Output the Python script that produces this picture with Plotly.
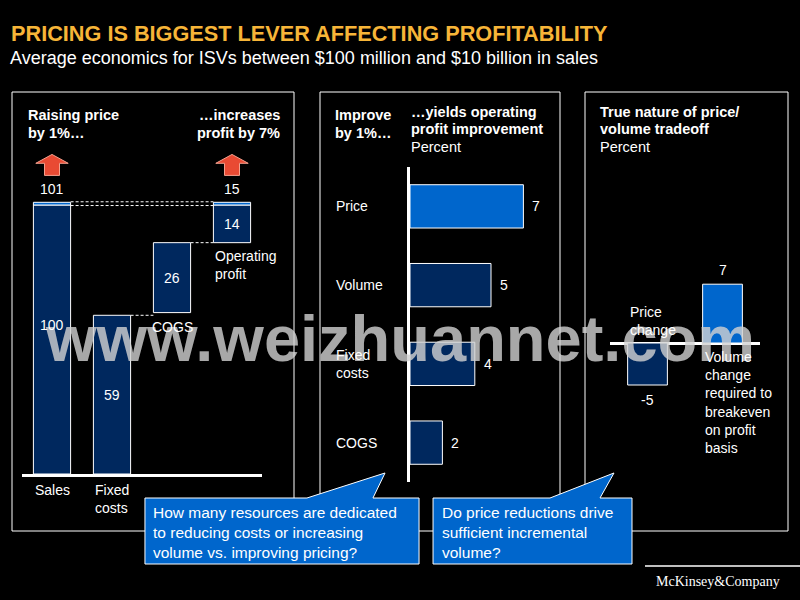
import plotly.graph_objects as go

W, H = 800, 600

# ---------------- data ----------------
TITLE = "PRICING IS BIGGEST LEVER AFFECTING PROFITABILITY"
SUBTITLE = "Average economics for ISVs between $100 million and $10 billion in sales"

# Panel 1 – waterfall (index 100 = sales)
wf_names = ["Sales", "Fixed<br>costs", "COGS", "Operating<br>profit"]
sales = 100
price_increase = 1
fixed_costs = 59
cogs = 26
op_profit = 14
new_op_profit = 15

# Panel 2 – operating profit improvement from 1% lever improvement
lever_names = ["Price", "Volume", "Fixed<br>costs", "COGS"]
lever_values = [7, 5, 4, 2]

# Panel 3 – price / volume trade-off
trade_names = ["Price<br>change",
               "Volume<br>change<br>required to<br>breakeven<br>on profit<br>basis"]
trade_values = [-5, 7]

callout_texts = [
    "How many resources are dedicated<br>to reducing costs or increasing<br>volume vs. improving pricing?",
    "Do price reductions drive<br>sufficient incremental<br>volume?",
]

# ---------------- style ----------------
NAVY = "#00285E"
BLUE = "#0066CC"
WHITE = "#FFFFFF"
GOLD = "#F7B538"
RED = "#E94A33"
FONT = "Liberation Sans, Arial, Helvetica, sans-serif"
SERIF = "Liberation Serif, Times New Roman, serif"


def px(x):
    return x / W


def py(y):
    return 1 - y / H


def pann(text, x, y, size=14, bold=False, xanchor="left", color=WHITE,
         family=FONT, align="left"):
    return dict(text=f"<b>{text}</b>" if bold else text, x=px(x), y=py(y),
                xref="paper", yref="paper", xanchor=xanchor, yanchor="middle",
                showarrow=False, align=align,
                font=dict(size=size, color=color, family=family))


def dann(text, x, y, xref, yref, xanchor="center", yanchor="middle",
         xshift=0, yshift=0, size=14, align="center"):
    return dict(text=text, x=x, y=y, xref=xref, yref=yref, xanchor=xanchor,
                yanchor=yanchor, xshift=xshift, yshift=yshift, showarrow=False,
                align=align, font=dict(size=size, color=WHITE, family=FONT))


fig = go.Figure()

# ---------------- panel 1: waterfall ----------------
BW1 = 0.62
profit_base = sales - op_profit
cogs_base = profit_base - cogs
wf_x = [0, 1, 2, 3]
fig.add_trace(go.Bar(
    x=wf_x, y=[sales, fixed_costs, cogs, op_profit],
    base=[0, 0, cogs_base, profit_base], width=BW1,
    marker=dict(color=NAVY, line=dict(color=WHITE, width=1)),
    xaxis="x", yaxis="y", hoverinfo="skip"))
fig.add_trace(go.Bar(
    x=[0, 3], y=[price_increase, price_increase], base=[sales, sales], width=BW1,
    marker=dict(color=BLUE, line=dict(color=WHITE, width=1)),
    xaxis="x", yaxis="y", hoverinfo="skip"))

# ---------------- panel 2: horizontal bars ----------------
lever_y = list(range(len(lever_values)))
fig.add_trace(go.Bar(
    x=lever_values, y=lever_y, orientation="h", width=0.55,
    marker=dict(color=[BLUE] + [NAVY] * (len(lever_values) - 1),
                line=dict(color=WHITE, width=1)),
    xaxis="x2", yaxis="y2", hoverinfo="skip"))

# ---------------- panel 3: trade-off bars ----------------
BW3 = 0.53
fig.add_trace(go.Bar(
    x=[0, 1], y=trade_values, width=BW3,
    marker=dict(color=[NAVY, BLUE], line=dict(color=WHITE, width=1)),
    xaxis="x3", yaxis="y3", hoverinfo="skip"))

# ---------------- shapes ----------------
shapes = []
# panel frames
for x0, x1 in [(12, 294), (320, 560), (585, 788)]:
    shapes.append(dict(type="rect", xref="paper", yref="paper",
                       x0=px(x0), x1=px(x1), y0=py(531), y1=py(92),
                       line=dict(color=WHITE, width=1), layer="below"))
# waterfall connectors (dashed)
h = BW1 / 2
for (xa, xb, yv) in [(0 + h, 3 - h, sales + price_increase + 0.2),
                     (0 + h, 3 - h, sales - 0.2),
                     (2 + h, 3 - h, profit_base),
                     (1 + h, 2 - h, fixed_costs)]:
    shapes.append(dict(type="line", xref="x", yref="y", x0=xa, x1=xb, y0=yv, y1=yv,
                       line=dict(color=WHITE, width=1, dash="3px,2px")))


# red up-arrows above sales and profit bars
def arrow_path(xc, ybase):
    hw, sw = 0.27, 0.125
    y0, y1, y2 = ybase, ybase + 4.5, ybase + 7.8
    pts = [(xc - sw, y0), (xc - sw, y1), (xc - hw, y1), (xc, y2),
           (xc + hw, y1), (xc + sw, y1), (xc + sw, y0)]
    return "M " + " L ".join(f"{a},{b}" for a, b in pts) + " Z"


arrow_base = sales + price_increase + 10
for xc in [0, 3]:
    shapes.append(dict(type="path", xref="x", yref="y", path=arrow_path(xc, arrow_base),
                       fillcolor=RED, line=dict(color="#F6A08E", width=1)))


# callout boxes
def callout(x0, x1, y0, y1, pa, tip, pb):
    pts = [(x0, y0), (pa, y0), tip, (pb, y0), (x1, y0), (x1, y1), (x0, y1)]
    return "M " + " L ".join(f"{px(a):.4f},{py(b):.4f}" for a, b in pts) + " Z"


shapes.append(dict(type="path", xref="paper", yref="paper", layer="above",
                   path=callout(145, 419, 498, 564, 307, (385, 473), 373),
                   fillcolor=BLUE, line=dict(color=WHITE, width=1)))
shapes.append(dict(type="path", xref="paper", yref="paper", layer="above",
                   path=callout(433, 632, 498, 564, 550, (614, 473), 600),
                   fillcolor=BLUE, line=dict(color=WHITE, width=1)))
# McKinsey rule
shapes.append(dict(type="line", xref="paper", yref="paper", x0=px(645), x1=px(800),
                   y0=py(566), y1=py(566), line=dict(color=WHITE, width=1.5)))

# ---------------- annotations ----------------
ann = []
# watermark (under the other texts)
ann.append(pann("www.weizhuannet.com", 400, 338, 65, True, "center",
                color="rgba(210,210,210,0.8)"))

ann.append(pann(TITLE, 9, 33, 21.7, True, color=GOLD))
ann.append(pann(SUBTITLE, 8, 58, 18))

# panel headings
ann += [
    pann("Raising price", 26, 115, 14.5, True),
    pann("by 1%…", 26, 133, 14.5, True),
    pann("…increases", 282, 115, 14.5, True, "right"),
    pann("profit by 7%", 282, 133, 14.5, True, "right"),
    pann("Improve", 333, 115, 14.5, True),
    pann("by 1%…", 333, 133, 14.5, True),
    pann("…yields operating", 409, 112, 14.5, True),
    pann("profit improvement", 409, 129, 14.5, True),
    pann("Percent", 409, 147, 14.5),
    pann("True nature of price/", 598, 112, 14.5, True),
    pann("volume tradeoff", 598, 129, 14.5, True),
    pann("Percent", 598, 147, 14.5),
]

# panel 1 labels
ann += [
    dann(str(sales + price_increase), 0, sales + price_increase, "x", "y",
         yanchor="bottom", yshift=3),
    dann(str(new_op_profit), 3, sales + price_increase, "x", "y",
         yanchor="bottom", yshift=3),
    dann(str(sales), 0, sales / 2, "x", "y", yshift=15),
    dann(str(fixed_costs), 1, fixed_costs / 2, "x", "y"),
    dann(str(cogs), 2, cogs_base + cogs / 2, "x", "y"),
    dann(str(op_profit), 3, profit_base + op_profit / 2, "x", "y"),
    dann(wf_names[0], 0, 0, "x", "y", yanchor="top", yshift=-6),
    dann(wf_names[1], 1 - h, 0, "x", "y", xanchor="left", yanchor="top",
         yshift=-6, align="left"),
    dann(wf_names[2], 2, cogs_base, "x", "y", yanchor="top", yshift=-4),
    dann(wf_names[3], 3 - h, profit_base, "x", "y", xanchor="left", yanchor="top",
         yshift=-3, align="left"),
]

# panel 2 labels
for i, (n, v) in enumerate(zip(lever_names, lever_values)):
    ann.append(dann(n, px(334), i, "paper", "y2", xanchor="left", align="left"))
    ann.append(dann(str(v), v, i, "x2", "y2", xanchor="left", xshift=7))

# panel 3 labels
ann += [
    dann(str(trade_values[1]), 1, trade_values[1], "x3", "y3", yanchor="bottom", yshift=4),
    dann(str(trade_values[0]), 0, trade_values[0], "x3", "y3", yanchor="top", yshift=-5),
    dann(trade_names[0], 0 - BW3 / 2, 0, "x3", "y3", xanchor="left", yanchor="bottom",
         yshift=3, align="left"),
    dann(trade_names[1], 1 - BW3 / 2, 0, "x3", "y3", xanchor="left", yanchor="top",
         yshift=-4, align="left"),
]

# callout texts
ann.append(pann(callout_texts[0], 151, 532, 15.5))
ann.append(pann(callout_texts[1], 440, 532, 15.5))

# logo
ann.append(pann("McKinsey&Company", 654, 581, 14, family=SERIF))

# ---------------- axes ----------------
PPU1 = 2.69       # px per unit, panel 1
PPU2 = 16.2       # px per unit, panel 2
PPU3 = 8.4        # px per unit, panel 3

hidden = dict(showgrid=False, zeroline=False, showticklabels=False, ticks="",
              fixedrange=True)

fig.update_layout(
    width=W, height=H, margin=dict(l=0, r=0, t=0, b=0),
    paper_bgcolor="black", plot_bgcolor="black",
    showlegend=False, barmode="overlay",
    font=dict(family=FONT, color=WHITE),
    xaxis=dict(domain=[px(22), px(262)], range=[-0.5, 3.5], anchor="y",
               showline=True, linecolor=WHITE, linewidth=3, **hidden),
    yaxis=dict(domain=[py(474), py(140)], range=[0, (474 - 140) / PPU1],
               anchor="x", visible=False, **hidden),
    xaxis2=dict(domain=[px(410), px(555)], range=[0, (555 - 410) / PPU2],
                anchor="y2", visible=False, **hidden),
    yaxis2=dict(domain=[py(482), py(167)], range=[3.5, -0.5], anchor="x2",
                showline=True, linecolor=WHITE, linewidth=3, **hidden),
    xaxis3=dict(domain=[px(610), px(760)], range=[-0.5, 1.5], anchor="y3",
                visible=False, **hidden),
    yaxis3=dict(domain=[py(430), py(250)],
                range=[-(430 - 343) / PPU3, (343 - 250) / PPU3], anchor="x3",
                showgrid=False, showticklabels=False, ticks="", fixedrange=True,
                showline=False, zeroline=True, zerolinecolor=WHITE, zerolinewidth=3),
    shapes=shapes,
    annotations=ann,
)

fig.write_html("out.html", config={"displayModeBar": False})
